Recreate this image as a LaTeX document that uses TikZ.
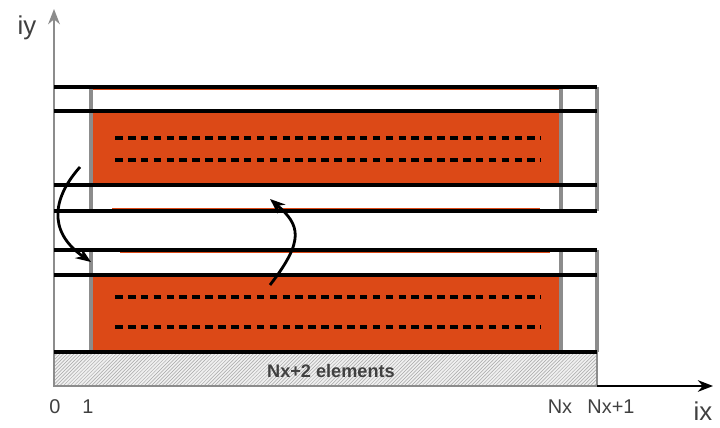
\documentclass[tikz,border=0pt]{standalone}
\usepackage{fontspec}
\setmainfont{Liberation Sans}
\usetikzlibrary{patterns,arrows.meta}
\definecolor{cellred}{HTML}{DC4917}
\definecolor{txtgray}{HTML}{404040}
\definecolor{linegray}{HTML}{8C8C8C}
\begin{document}
\begin{tikzpicture}[x=0.03cm,y=-0.03cm,
  blk/.style={line width=2.9pt,black},
  gry/.style={line width=2.6pt,linegray},
  dsh/.style={line width=2.9pt,black,dash pattern=on 6.5pt off 4.5pt},
  thinor/.style={line width=0.6pt,cellred},
  curvarrow/.style={line width=2.4pt,-{Stealth[length=13pt,width=10pt]}},
  lbl/.style={text=txtgray,font=\fontsize{17}{17}\selectfont},
  axlbl/.style={text=txtgray,font=\fontsize{22}{22}\selectfont}]
\useasboundingbox (0,0) rectangle (720,428);
% orange cells
\fill[cellred] (91,111) rectangle (561,185);
\fill[cellred] (91,275) rectangle (561,352);
% thin orange traces
\draw[thinor] (91,89) -- (561,89);
\draw[thinor] (112,208.5) -- (540,208.5);
\draw[thinor] (120,252.5) -- (550,252.5);
% hatch
\fill[gray!12] (54,352) rectangle (597,386);
\fill[pattern=north east lines,pattern color=gray!70] (54,352) rectangle (597,386);
\draw[gry,line width=2pt] (54,352) -- (54,386) -- (597,386) -- (597,352);
\node[font=\bfseries\fontsize{15.5}{15.5}\selectfont,text=txtgray] (lab) at (331,371) {Nx+2 elements};
% vertical gray lines
\foreach \xx in {91,561,597}{
  \draw[gry] (\xx,87) -- (\xx,211);
  \draw[gry] (\xx,250) -- (\xx,352);
}
% y axis
\draw[gry,line width=2pt,-{Stealth[length=13pt,width=10pt]},draw=linegray] (54,386) -- (54,9);
\node[axlbl] (iy) at (27,28) {iy};
% x axis
\draw[line width=1.1pt,-{Stealth[length=13pt,width=10pt]}] (597,386) -- (713,386);
\node[axlbl] (ix) at (703,411) {ix};
% horizontal black lines
\foreach \yy in {87,111,185,211,250,275,352}{
  \draw[blk] (54,\yy) -- (597,\yy);
}
% dashed lines
\foreach \yy in {138,160,297,327}{
  \draw[dsh] (115,\yy) -- (541,\yy);
}
% tick labels
\node[lbl] (l0) at (55,407) {0};
\node[lbl] (l1) at (88,407) {1};
\node[lbl] (lnx) at (560,407) {Nx};
\node[lbl] (lnx1) at (611,407) {Nx+1};
% curved arrows
\coordinate (a1s) at (80,167);
\coordinate (a1e) at (91,262);
\draw[curvarrow] (a1s) .. controls (55,195) and (45,230) .. (a1e);
\coordinate (a2s) at (270,285);
\coordinate (a2e) at (270,199);
\draw[curvarrow] (a2s) .. controls (305,240) and (300,225) .. (a2e);
\end{tikzpicture}
\end{document}
